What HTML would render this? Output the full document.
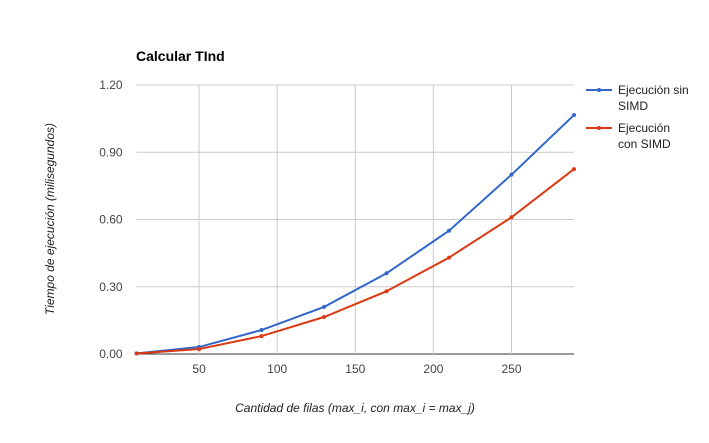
<!DOCTYPE html>
<html><head><meta charset="utf-8"><style>
body{margin:0;background:#fff;font-family:"Liberation Sans",Arial,sans-serif;}
svg text{font-family:"Liberation Sans",Arial,sans-serif;}
</style></head><body>
<svg id="chart" width="709" height="438">
<text x="136" y="61" font-size="14" font-weight="bold" fill="#000">Calcular TInd</text>
<g id="grid"></g><g id="series"></g><g id="labels"></g>
<text transform="translate(54,219) rotate(-90)" text-anchor="middle" font-size="12" font-style="italic" fill="#222">Tiempo de ejecución (milisegundos)</text>
<text x="355" y="412" text-anchor="middle" font-size="12" font-style="italic" fill="#222">Cantidad de filas (max_i, con max_i =  max_j)</text>
<g>
<line x1="586" y1="90" x2="612" y2="90" stroke="#3366cc" stroke-width="2"/><circle cx="599" cy="90" r="2" fill="#3366cc"/>
<text x="618" y="94" font-size="12" fill="#222">Ejecución sin</text><text x="618" y="110" font-size="12" fill="#222">SIMD</text></g>
<g>
<line x1="586" y1="128" x2="612" y2="128" stroke="#dc3912" stroke-width="2"/><circle cx="599" cy="128" r="2" fill="#dc3912"/>
<text x="618" y="132" font-size="12" fill="#222">Ejecución</text><text x="618" y="148" font-size="12" fill="#222">con SIMD</text></g>
</svg>
<script>
const categories=[10,50,90,130,170,210,250,290];
const sinSimd=[0.003,0.031,0.107,0.21,0.36,0.55,0.80,1.066];
const conSimd=[0.002,0.022,0.08,0.165,0.28,0.43,0.61,0.825];
const yTicks=[0,0.3,0.6,0.9,1.2];
const yTickLabels=["0.00","0.30","0.60","0.90","1.20"];
const xTicks=[50,100,150,200,250];
const NS="http://www.w3.org/2000/svg";
const L=136.6,R=574,T=85,B=354;
const xs=v=>L+(v-10)/(290-10)*(R-L);
const ys=v=>B-v/1.2*(B-T);
function mk(t,a,p){const e=document.createElementNS(NS,t);for(const k in a)e.setAttribute(k,a[k]);p.appendChild(e);return e;}
const grid=document.getElementById('grid'),lab=document.getElementById('labels'),ser=document.getElementById('series');
yTicks.forEach((v,i)=>{
 const l=mk('line',{x1:L,x2:R,y1:ys(v),y2:ys(v),stroke:i==0?'#333':'#ccc','stroke-width':1},grid);
 
 
 const t=mk('text',{x:L-14,y:ys(v)+4,'text-anchor':'end','font-size':12,fill:'#444'},lab);t.textContent=yTickLabels[i];
 
 
});
xTicks.forEach(v=>{
 const l=mk('line',{x1:xs(v),x2:xs(v),y1:T,y2:B,stroke:'#ccc','stroke-width':1},grid);
 
 
 const t=mk('text',{x:xs(v),y:B+19,'text-anchor':'middle','font-size':12,fill:'#444'},lab);t.textContent=v;
 
 
});
[[sinSimd,'#3366cc','series-sin-simd'],[conSimd,'#dc3912','series-con-simd']].forEach(([d,c,n])=>{
 const p=mk('polyline',{points:d.map((v,i)=>xs(categories[i])+','+ys(v)).join(' '),fill:'none',stroke:c,'stroke-width':2},ser);
 
 
 d.forEach((v,i)=>{const pt=mk('circle',{cx:xs(categories[i]),cy:ys(v),r:2,fill:c},ser);
 
 });
});
</script>
</body></html>
